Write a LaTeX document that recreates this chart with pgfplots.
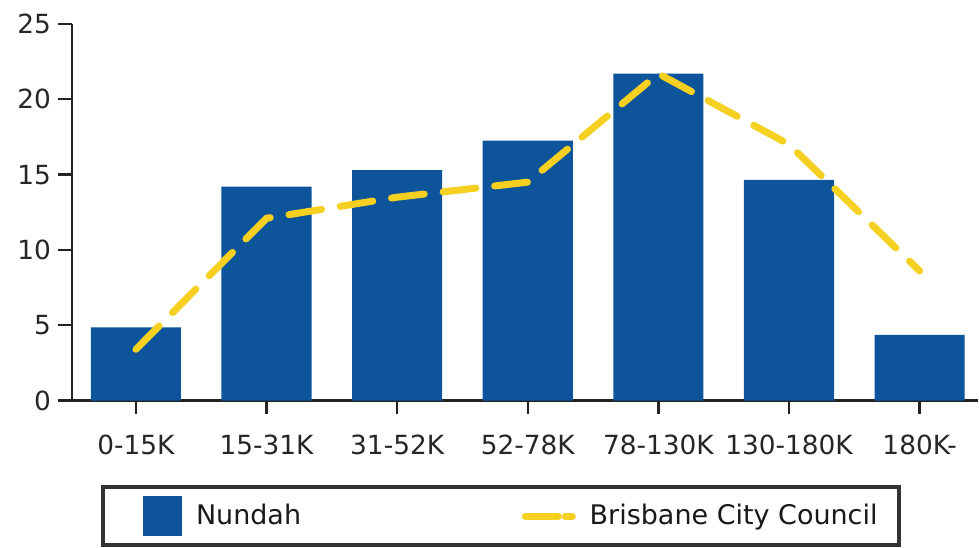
\documentclass[border=0pt]{standalone}
\usepackage{fontspec}
\setmainfont{DejaVu Sans}
\usepackage{pgfplots}
\pgfplotsset{compat=1.18}
\definecolor{barblue}{RGB}{14,84,154}
\definecolor{lineyellow}{RGB}{245,208,32}
\definecolor{axisgray}{RGB}{35,35,35}
\begin{document}
\begin{tikzpicture}
\begin{axis}[
    width=453.5pt, height=188.5pt, scale only axis,
    xmin=-0.49, xmax=6.445, ymin=0, ymax=25,
    axis x line*=bottom, axis y line*=left,
    axis line style={axisgray, line width=1.2pt},
    xtick={0,...,6},
    xticklabels={0-15K,15-31K,31-52K,52-78K,78-130K,130-180K,180K-},
    ytick={0,5,10,15,20,25},
    tick align=outside,
    major tick length=7pt,
    tick style={axisgray, line width=1.2pt},
    tick label style={font=\fontsize{13.2}{16}\selectfont, text=black!85},
    /pgf/number format/assume math mode=true,
    xticklabel style={yshift=-6.5pt},
    yticklabel style={xshift=0pt},
    legend style={at={(0.474,-0.225)}, anchor=north, legend columns=2,
        draw=black!80, line width=2pt, inner xsep=9pt, inner ysep=4.5pt,
        font=\fontsize{13.5}{16}\selectfont, text=black!90,
        /tikz/every odd column/.append style={column sep=5pt},
        /tikz/every even column/.append style={column sep=108.5pt}},
]
% Nundah
\addplot[ybar, bar width=0.69, fill=barblue, draw=none,
    legend image code/.code={\path (-11pt,0pt);\fill[barblue] (0pt,-10pt) rectangle (19.5pt,10pt);}]
    coordinates {(0,4.85) (1,14.2) (2,15.3) (3,17.25) (4,21.7) (5,14.65) (6,4.35)};
\addlegendentry{Nundah}
% Brisbane City Council
\addplot[lineyellow, line width=3.5pt, line cap=round, dash pattern=on 16.5pt off 9.5pt,
    legend image code/.code={\draw[lineyellow, line width=3.5pt, line cap=round, dash pattern=on 16.5pt off 3.5pt] (1.75pt,0pt) -- (25.25pt,0pt);}]
    coordinates {(0,3.4) (1,12.1) (2,13.5) (3,14.5) (4,21.7) (5,17.0) (6,8.6)};
\addlegendentry{Brisbane City Council}
\end{axis}
\path ([xshift=-36pt]current axis.south west);
\path ([yshift=12pt]current axis.north west);
\end{tikzpicture}
\end{document}
